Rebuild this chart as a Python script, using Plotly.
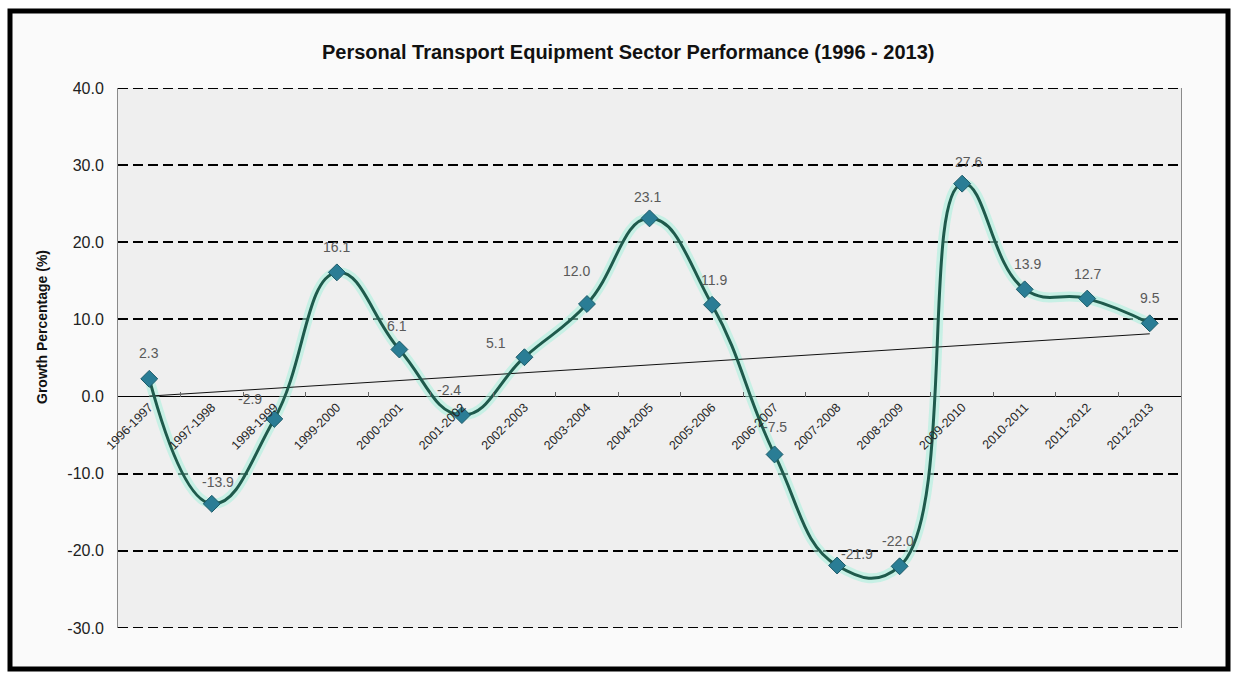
import numpy as np
import plotly.graph_objects as go

# Fiscal periods and sector growth (%)
periods = [
    "1996-1997", "1997-1998", "1998-1999", "1999-2000", "2000-2001",
    "2001-2002", "2002-2003", "2003-2004", "2004-2005", "2005-2006",
    "2006-2007", "2007-2008", "2008-2009", "2009-2010", "2010-2011",
    "2011-2012", "2012-2013",
]
growth = [2.3, -13.9, -2.9, 16.1, 6.1, -2.4, 5.1, 12.0, 23.1, 11.9,
          -7.5, -21.9, -22.0, 27.6, 13.9, 12.7, 9.5]

y_ticks = [-30, -20, -10, 0, 10, 20, 30, 40]
y_tick_text = [f"{v:.1f}" for v in y_ticks]

# Pixel nudges (dx, dy) for each value label relative to its marker
label_nudge = [(0, 26), (6, 22), (-24, 20), (0, 25), (-2, 24), (-13, 25),
               (-28, 14), (-10, 33), (-2, 21), (2, 25), (0, 27), (20, 12),
               (-2, 25), (6, 22), (3, 25), (0, 25), (0, 25)]

W, H = 1234, 678
L, R, T, B = 118, 1181, 88, 628   # plot area in px


def px_x(p):
    return (p - L) / (R - L)


def px_y(p):
    return (B - p) / (B - T)


# Linear trend through the series
xi = np.arange(len(growth))
slope, intercept = np.polyfit(xi, growth, 1)
trend_y = [intercept, intercept + slope * xi[-1]]

SMOOTH = 1.3

fig = go.Figure()

# soft glow under the curve
fig.add_trace(go.Scatter(
    x=periods, y=growth, mode="lines",
    line=dict(shape="spline", smoothing=SMOOTH, color="rgba(165,240,220,0.55)", width=10),
    hoverinfo="skip", showlegend=False,
))
fig.add_trace(go.Scatter(
    x=[periods[0], periods[-1]], y=trend_y, mode="lines",
    line=dict(color="#111111", width=1),
    hoverinfo="skip", showlegend=False,
))
fig.add_trace(go.Scatter(
    x=periods, y=growth, mode="lines+markers",
    line=dict(shape="spline", smoothing=SMOOTH, color="#1e5a4c", width=3),
    marker=dict(symbol="diamond", size=13, color="#2a7d95",
                line=dict(color="#1b5a68", width=1)),
    showlegend=False,
))

annotations = []
for p, v, (dx, dy) in zip(periods, growth, label_nudge):
    annotations.append(dict(
        x=p, y=v, xref="x", yref="y", text=f"{v:.1f}", showarrow=False,
        xshift=dx, yshift=dy,
        font=dict(family="Liberation Sans, Arial", size=14, color="#595959"),
    ))

annotations.append(dict(
    x=px_x(628), y=px_y(52), xref="paper", yref="paper",
    text="<b>Personal Transport Equipment Sector Performance (1996 - 2013)</b>",
    showarrow=False, xanchor="center", yanchor="middle",
    font=dict(family="Liberation Sans, Arial", size=20, color="#111111"),
))
annotations.append(dict(
    x=px_x(42), y=px_y(327), xref="paper", yref="paper",
    text="<b>Growth Percentage (%)</b>", textangle=-90, showarrow=False,
    xanchor="center", yanchor="middle",
    font=dict(family="Liberation Sans, Arial", size=14, color="#111111"),
))

shapes = [
    # outer frame
    dict(type="rect", xref="paper", yref="paper", layer="below",
         x0=px_x(10), x1=px_x(1228), y0=px_y(669), y1=px_y(11),
         line=dict(color="#000000", width=5), fillcolor="#fafafa"),
    # plot area
    dict(type="rect", xref="paper", yref="paper", layer="below",
         x0=0, x1=1, y0=0, y1=1, line=dict(width=0), fillcolor="#efefef"),
]
# dashed grid lines at the top and bottom of the value range
for v in (y_ticks[0], y_ticks[-1]):
    shapes.append(dict(type="line", xref="paper", yref="y", x0=0, x1=1, y0=v, y1=v,
                       line=dict(color="#000000", width=2, dash="10px,5px")))

fig.update_layout(
    width=W, height=H,
    margin=dict(l=L, r=W - R, t=T, b=H - B),
    paper_bgcolor="#ffffff", plot_bgcolor="rgba(0,0,0,0)",
    showlegend=False,
    annotations=annotations, shapes=shapes,
    xaxis=dict(
        type="category", range=[-0.5, len(periods) - 0.5],
        anchor="free", position=30 / 70,
        showgrid=False, showline=False, zeroline=False,
        ticks="inside", tickson="boundaries", ticklen=5, tickcolor="#666666",
        tickangle=-45,
        tickfont=dict(family="Liberation Sans, Arial", size=12.5, color="#262626"),
    ),
    yaxis=dict(
        range=[y_ticks[0], y_ticks[-1]], tickvals=y_ticks, ticktext=y_tick_text,
        showgrid=True, gridcolor="#000000", gridwidth=2, griddash="10px,5px",
        zeroline=True, zerolinecolor="#000000", zerolinewidth=1,
        showline=True, mirror=True, linecolor="#8a8a8a", linewidth=1,
        ticks="", ticklabelstandoff=10,
        tickfont=dict(family="Liberation Sans, Arial", size=16, color="#222222"),
    ),
)

fig.write_html("out.html")
